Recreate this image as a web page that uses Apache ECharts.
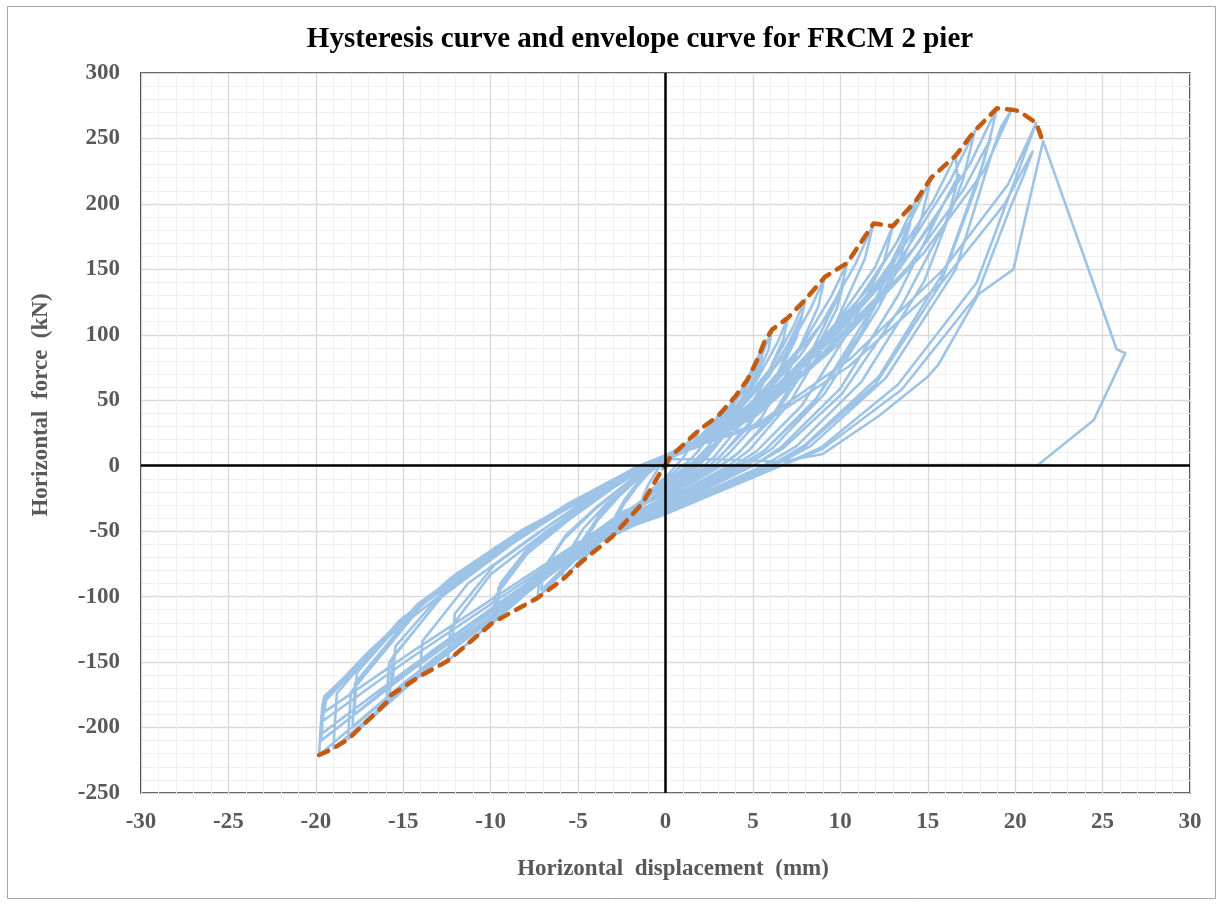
<!DOCTYPE html>
<html>
<head>
<meta charset="utf-8">
<script src="https://cdn.jsdelivr.net/npm/echarts@6/dist/echarts.min.js"></script>
<style>
  html, body { margin: 0; padding: 0; background: #fff; }
  #chart { width: 1223px; height: 906px; }
</style>
</head>
<body>
<div id="chart"></div>
<script>
// Horizontal displacement (mm) vs horizontal force (kN), FRCM 2 pier cyclic test.
// Each cycle: loading to the positive peak, unloading into the negative peak, unloading back.
const cycle01 = [[0,0],[0.15,3],[0.3,7],[0.25,3],[0.1,0],[0,-1.5],[-0.2,-3],[-0.15,-1],[-0.1,0]];
const cycle02 = [[0,3],[0.5,8],[1.0,14],[1.5,21],[1.9,27],[1.8,23],[1.4,14],[1.0,6],[0.6,0],[0,-9],[-0.4,-13],[-0.8,-19],[-1.1,-24],[-1.33,-29],[-1.3,-24],[-1.0,-15],[-0.6,-6],[-0.3,0]];
const cycle03 = [[0,4],[0.8,9],[1.5,16],[2.3,27],[2.8,34],[3.0,38],[2.9,33],[2.4,21],[1.8,10],[1.2,2],[0.9,0],[0,-11],[-0.8,-18],[-1.5,-29],[-2.3,-42],[-3.04,-54],[-3.0,-45],[-2.4,-30],[-1.7,-17],[-1.0,-6],[-0.4,0]];
const cycle04 = [[0,5],[1.0,10],[2.0,20],[3.0,34],[3.7,46],[4.0,53],[3.85,45],[3.2,29],[2.4,14],[1.6,3],[1.2,0],[0,-13],[-0.7,-19],[-1.5,-29],[-2.2,-37],[-2.9,-46],[-2.85,-38],[-2.3,-25],[-1.6,-13],[-0.9,-4],[-0.5,0]];
const cycle05 = [[0,5],[1.2,11],[2.4,23],[3.5,40],[4.3,56],[4.7,66],[4.55,56],[3.8,36],[2.8,17],[1.9,4],[1.4,0],[0,-15],[-1.2,-25],[-2.5,-40],[-3.7,-57],[-4.94,-75],[-4.85,-62],[-3.9,-42],[-2.7,-24],[-1.5,-9],[-0.6,0]];
const cycle06 = [[0,6],[1.3,12],[2.6,26],[3.9,47],[4.8,68],[5.25,81],[5.1,69],[4.2,44],[3.1,20],[2.1,5],[1.6,0],[0,-16],[-1.2,-25],[-2.4,-37],[-3.6,-52],[-4.8,-68],[-4.7,-56],[-3.8,-38],[-2.6,-21],[-1.5,-8],[-0.7,0]];
const cycle07 = [[0,6],[1.4,13],[2.8,29],[4.2,54],[5.2,80],[5.7,96],[5.5,82],[4.6,53],[3.4,25],[2.3,6],[1.8,0],[0,-18],[-1.5,-30],[-2.9,-46],[-4.4,-65],[-5.89,-87],[-5.8,-72],[-4.7,-48],[-3.3,-28],[-1.8,-11],[-0.8,0]];
const cycle08 = [[0,6],[1.5,14],[3.0,31],[4.5,58],[5.6,87],[6.1,104],[5.9,89],[4.9,58],[3.6,27],[2.4,7],[1.9,0],[0,-19],[-1.8,-33],[-3.6,-53],[-5.4,-75],[-7.32,-101],[-7.2,-84],[-5.8,-56],[-4.0,-33],[-2.2,-13],[-0.9,0]];
const cycle09 = [[0,6],[1.7,15],[3.5,37],[5.2,65],[6.4,94],[7.0,113],[6.75,97],[5.6,63],[4.2,30],[2.8,7],[2.2,0],[0,-20],[-1.8,-32],[-3.5,-50],[-5.3,-71],[-7.1,-95],[-7.0,-79],[-5.7,-53],[-3.9,-31],[-2.1,-12],[-0.9,0]];
const cycle10 = [[0,7],[2.0,17],[4.0,42],[6.0,74],[7.3,106],[8.0,127],[7.7,108],[6.4,70],[4.8,33],[3.2,8],[2.5,0],[0,-21],[-2.5,-38],[-4.9,-63],[-7.3,-90],[-9.89,-120],[-9.75,-100],[-7.9,-67],[-5.4,-40],[-3.0,-17],[-1.0,0]];
const cycle11 = [[0,6],[2.0,15],[3.9,38],[5.9,68],[7.1,95],[7.8,115],[7.5,98],[6.2,63],[4.7,29],[3.1,7],[2.5,0],[0,-21],[-2.4,-35],[-4.8,-58],[-7.2,-82],[-9.6,-108],[-9.45,-90],[-7.7,-60],[-5.3,-36],[-2.9,-15],[-1.0,0]];
const cycle12 = [[0,7],[2.3,19],[4.5,47],[6.8,84],[8.3,120],[9.1,144],[8.75,122],[7.3,79],[5.5,37],[3.6,9],[2.8,0],[0,-22],[-2.4,-36],[-4.8,-58],[-7.2,-84],[-9.7,-112],[-9.55,-93],[-7.7,-62],[-5.3,-37],[-2.9,-16],[-1.0,0]];
const cycle13 = [[0,7],[2.6,21],[5.2,52],[7.8,92],[9.5,130],[10.4,155],[10.0,132],[8.3,86],[6.2,40],[4.2,10],[3.2,0],[0,-25],[-3.1,-47],[-6.2,-78],[-9.2,-111],[-12.45,-149],[-12.3,-124],[-10.0,-83],[-6.8,-50],[-3.7,-21],[-1.1,0]];
const cycle14 = [[0,7],[2.6,19],[5.1,47],[7.7,84],[9.4,118],[10.2,140],[9.8,120],[8.2,78],[6.1,36],[4.1,9],[3.1,0],[0,-24],[-3.0,-44],[-6.1,-72],[-9.1,-102],[-12.2,-135],[-12.05,-113],[-9.8,-76],[-6.7,-46],[-3.6,-19],[-1.1,0]];
const cycle15 = [[0,7],[3.0,24],[6.0,61],[8.9,108],[10.9,155],[11.9,185],[11.4,158],[9.5,102],[7.1,48],[4.8,12],[3.6,0],[0,-27],[-3.5,-50],[-7.0,-85],[-10.4,-121],[-14.07,-161],[-13.9,-134],[-11.3,-90],[-7.7,-55],[-4.2,-23],[-1.2,0]];
const cycle16 = [[0,7],[3.2,24],[6.5,62],[9.7,108],[12.0,152],[13.0,183],[12.5,156],[10.4,101],[7.8,46],[5.2,11],[3.9,0],[0,-29],[-3.9,-55],[-7.9,-94],[-11.8,-133],[-15.78,-176],[-15.6,-146],[-12.6,-97],[-8.7,-58],[-4.7,-25],[-1.3,0]];
const cycle17 = [[0,7],[3.6,27],[7.2,70],[10.7,120],[13.2,170],[14.3,202],[13.7,172],[11.4,111],[8.6,51],[5.7,12],[4.3,0],[0,-30],[-4.0,-57],[-8.0,-96],[-12.0,-136],[-15.97,-181],[-15.8,-150],[-12.8,-100],[-8.8,-60],[-4.8,-25],[-1.3,0]];
const cycle18 = [[0,7],[3.5,25],[7.0,64],[10.5,110],[12.9,155],[14.0,185],[13.4,158],[11.2,102],[8.4,47],[5.6,11],[4.2,0],[0,-29],[-3.9,-54],[-7.8,-89],[-11.7,-126],[-15.6,-165],[-15.45,-138],[-12.5,-93],[-8.6,-56],[-4.7,-23],[-1.3,0]];
const cycle19 = [[0,7],[3.8,30],[7.6,77],[11.4,132],[14.0,187],[15.2,220],[14.6,187],[12.2,121],[9.1,55],[6.1,13],[4.6,0],[0,-32],[-4.5,-62],[-9.1,-109],[-13.6,-155],[-18.16,-209],[-18.0,-173],[-14.5,-116],[-10.0,-69],[-5.4,-29],[-1.4,0]];
const cycle20 = [[0,7],[4.2,32],[8.3,83],[12.4,143],[15.3,202],[16.6,237],[16.7,220],[15.9,200],[13.3,130],[10.0,59],[6.6,14],[5.0,0],[0,-33],[-4.5,-61],[-8.9,-104],[-13.4,-149],[-17.9,-200],[-17.75,-166],[-14.3,-110],[-9.8,-66],[-5.4,-28],[-1.4,0]];
const cycle21 = [[0,7],[4.2,30],[8.4,78],[12.6,136],[15.5,190],[16.8,222],[16.1,188],[13.5,122],[10.1,55],[6.7,13],[5.0,0],[0,-32],[-4.5,-58],[-8.9,-99],[-13.4,-142],[-17.8,-190],[-17.65,-158],[-14.2,-106],[-9.8,-63],[-5.3,-27],[-1.4,0]];
const cycle22 = [[0,7],[4.4,35],[8.9,90],[13.3,155],[16.3,218],[17.7,256],[17.0,218],[14.8,141],[11.2,64],[7.5,15],[5.6,0],[0,-34],[-4.8,-65],[-9.5,-112],[-14.1,-160],[-19.0,-216],[-18.8,-174],[-15.2,-118],[-10.5,-70],[-5.7,-30],[-1.5,0]];
const cycle23 = [[0,8],[4.7,38],[9.5,96],[14.2,166],[17.4,230],[18.95,273],[18.7,258],[18.2,232],[16.0,150],[12.2,68],[8.0,16],[6.0,0],[0,-35],[-4.95,-64],[-9.9,-115],[-14.8,-164],[-19.81,-221],[-19.73,-201],[-19.62,-182],[-17.5,-152],[-15.0,-120],[-12.4,-88],[-8.5,-54],[-4.7,-26],[-1.5,0]];
const cycle24 = [[0,8],[4.6,34],[9.3,88],[13.9,152],[17.1,212],[18.6,250],[18.3,238],[17.8,214],[15.7,138],[12.0,62],[7.9,14],[5.9,0],[0,-35],[-4.9,-63],[-9.85,-111],[-14.8,-159],[-19.7,-210],[-19.6,-192],[-19.5,-176],[-17.3,-148],[-14.9,-117],[-12.3,-86],[-8.4,-53],[-4.6,-25],[-1.5,0]];
const cycle25 = [[0,8],[5.0,36],[9.9,93],[14.8,163],[18.2,225],[19.8,272],[19.2,259],[18.6,236],[16.6,150],[12.6,67],[8.3,15],[6.2,0],[0,-36],[-4.9,-62],[-9.8,-108],[-14.7,-155],[-19.7,-205],[-19.65,-190],[-19.55,-178],[-17.4,-148],[-14.8,-116],[-12.2,-85],[-8.4,-52],[-4.6,-25],[-1.5,0]];
const cycle26 = [[0,8],[5.3,32],[10.6,82],[15.9,150],[19.6,215],[21.2,262],[20.6,240],[19.9,215],[17.8,140],[13.3,62],[8.9,14],[6.6,0],[0,-37],[-4.9,-60],[-9.8,-104],[-14.7,-148],[-19.6,-195],[-19.5,-180],[-17.3,-147],[-14.6,-113],[-12.0,-83],[-8.3,-50],[-4.5,-24],[-1.5,0]];
const cycle27 = [[0,8],[5.3,30],[10.5,76],[15.8,140],[19.4,200],[21.0,240],[20.5,222],[19.8,200],[17.8,130],[13.5,58],[9.0,13],[6.6,0],[0,-36],[-4.9,-58],[-9.7,-100],[-14.6,-143],[-19.5,-188],[-19.4,-176],[-17.2,-145],[-14.5,-111],[-11.9,-82],[-8.2,-49],[-4.5,-23],[-1.5,0]];
const cycle28 = [[0,5],[3.0,5],[6.6,3],[9.0,9],[12.2,38],[15.0,68],[15.6,77],[17.9,131],[19.9,150],[21.6,248],[23.8,165],[25.8,89],[26.3,86],[24.5,35],[21.3,0.5],[22.0,0.5],[6.6,0.5]];

// Envelope through the cycle peaks
const envelope = [[-19.81,-221],[-19.0,-216],[-18.16,-209],[-15.97,-181],[-15.78,-176],[-14.07,-161],[-12.45,-149],[-9.89,-120],[-7.32,-101],[-5.89,-87],[-4.94,-75],[-3.04,-54],[-1.33,-29],[-0.2,-3],[0.3,7],[1.9,27],[3.0,38],[4.0,53],[4.7,66],[5.25,81],[5.7,96],[6.1,104],[7.0,113],[8.0,127],[9.1,144],[10.4,155],[11.9,185],[13.0,183],[14.3,202],[15.2,220],[16.6,237],[17.7,256],[18.95,273],[19.8,272],[20.2,271],[21.2,262],[21.6,247]];

// Axis ranges
const xRange = { min: -30, max: 30, step: 5 };
const yRange = { min: -250, max: 300, step: 50 };

const hysteresis = [].concat(
  cycle01, cycle02, cycle03, cycle04, cycle05, cycle06, cycle07,
  cycle08, cycle09, cycle10, cycle11, cycle12, cycle13, cycle14,
  cycle15, cycle16, cycle17, cycle18, cycle19, cycle20, cycle21,
  cycle22, cycle23, cycle24, cycle25, cycle26, cycle27, cycle28
);

const serif = '"Liberation Serif", "Times New Roman", serif';
const chart = echarts.init(document.getElementById('chart'), null, { renderer: 'canvas' });

const axisCommon = {
  type: 'value',
  axisLine: { show: false },
  axisTick: { show: false },
  axisLabel: { color: '#595959', fontFamily: serif, fontWeight: 'bold', fontSize: 23 },
  splitLine: { show: true, lineStyle: { color: '#d9d9d9', width: 1.3 } },
  minorTick: { show: false, splitNumber: 5 },
  minorSplitLine: { show: true, lineStyle: { color: '#f0f0f0', width: 1 } }
};

chart.setOption({
  backgroundColor: '#ffffff',
  animation: false,
  grid: {
    left: 141, right: 33, top: 73, bottom: 113,
    show: true, borderColor: '#000', borderWidth: 1.5, backgroundColor: 'transparent'
  },
  xAxis: Object.assign({}, axisCommon, {
    min: xRange.min, max: xRange.max, interval: xRange.step,
    axisLabel: Object.assign({}, axisCommon.axisLabel, { margin: 18 })
  }),
  yAxis: Object.assign({}, axisCommon, {
    min: yRange.min, max: yRange.max, interval: yRange.step,
    axisLabel: Object.assign({}, axisCommon.axisLabel, { margin: 21 })
  }),
  graphic: [
    { type: 'rect', shape: { x: 7.5, y: 6.5, width: 1208, height: 892 },
      style: { fill: 'none', stroke: '#a6a6a6', lineWidth: 1 }, silent: true, z: -10 },
    { type: 'text', x: 640, y: 40,
      style: { text: 'Hysteresis curve and envelope curve for FRCM 2 pier', fill: '#000',
        font: 'bold 29px ' + serif, textAlign: 'center', textVerticalAlign: 'middle' } },
    { type: 'text', x: 673, y: 869,
      style: { text: 'Horizontal  displacement  (mm)', fill: '#595959',
        font: 'bold 23px ' + serif, textAlign: 'center', textVerticalAlign: 'middle' } },
    { type: 'text', x: 41, y: 405, rotation: Math.PI / 2,
      style: { text: 'Horizontal  force  (kN)', fill: '#595959',
        font: 'bold 23px ' + serif, textAlign: 'center', textVerticalAlign: 'middle' } }
  ],
  series: [
    {
      name: 'axes',
      type: 'line',
      data: [],
      z: 1,
      markLine: {
        silent: true,
        symbol: 'none',
        label: { show: false },
        lineStyle: { color: '#000', width: 2.5, type: 'solid' },
        data: [{ xAxis: 0 }, { yAxis: 0 }]
      }
    },
    {
      name: 'Hysteresis',
      type: 'line',
      data: hysteresis,
      showSymbol: false,
      z: 3,
      lineStyle: { color: '#9dc3e6', width: 2.6, join: 'round' }
    },
    {
      name: 'Envelope',
      type: 'line',
      data: envelope,
      showSymbol: false,
      z: 4,
      lineStyle: { color: '#c55a11', width: 4.5, type: [10, 9], cap: 'round', join: 'round' }
    }
  ]
});
</script>
</body>
</html>
